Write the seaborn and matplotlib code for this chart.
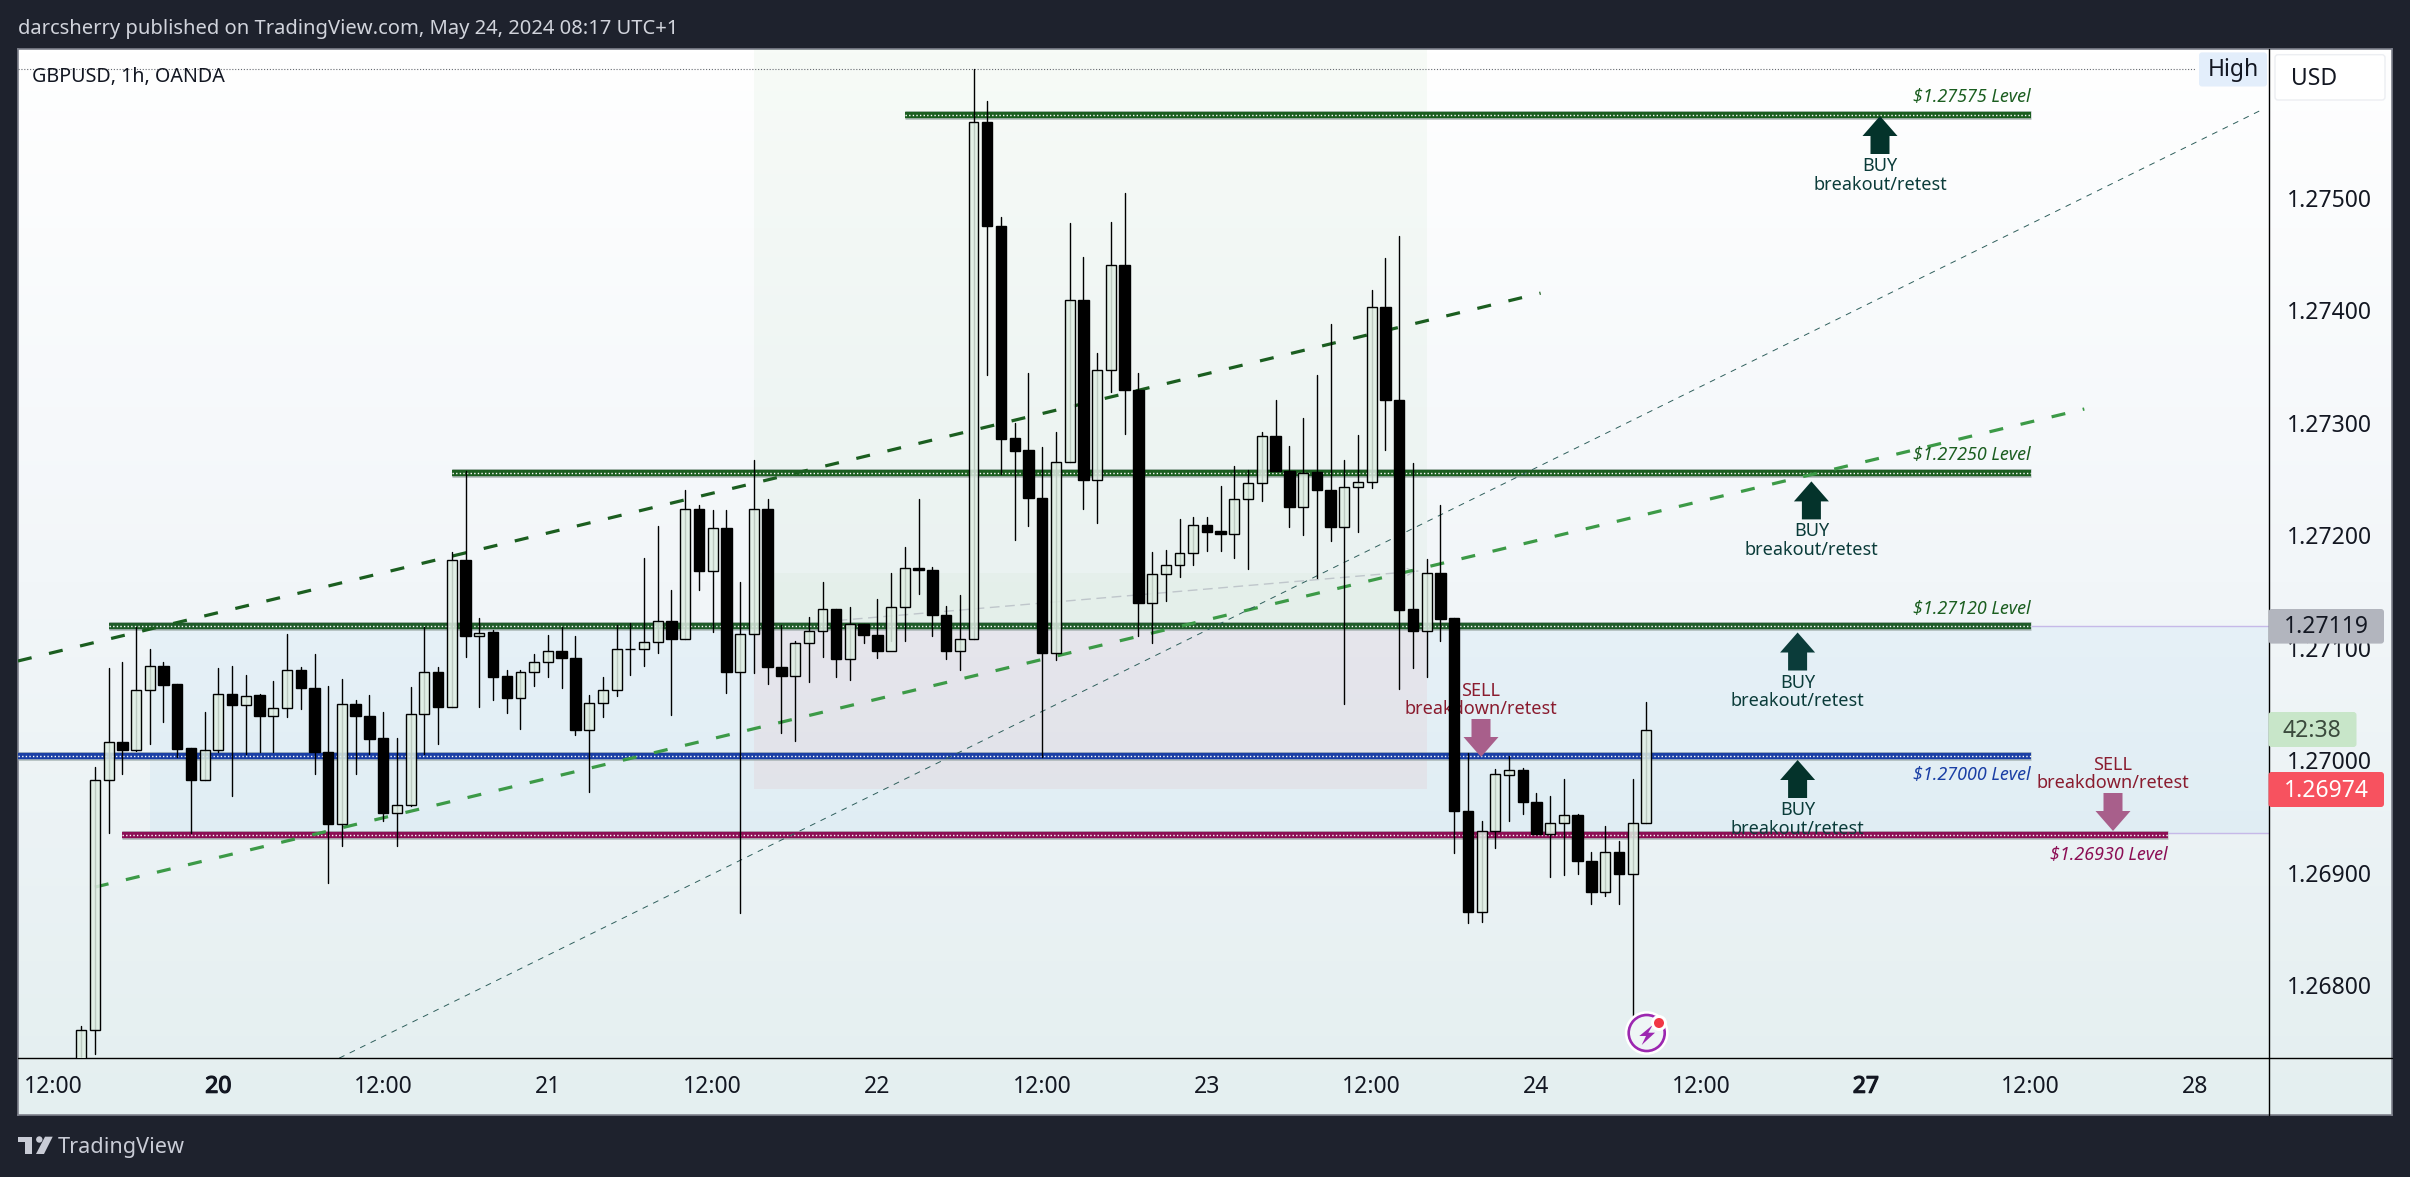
import pandas as pd
import numpy as np
import matplotlib
matplotlib.use("Agg")
import matplotlib.pyplot as plt
import matplotlib.patches as mpatches
import matplotlib.patheffects as pe
from matplotlib.colors import LinearSegmentedColormap, to_rgba
from matplotlib.transforms import Affine2D
import seaborn as sns

# ---------------------------
# data (GBPUSD 1h, bar 0 = May 20 00:00)
# ---------------------------
first_bar = -10
opens = [
    1.26730, 1.26760, 1.26982, 1.27016, 1.27009, 1.27062, 1.27084, 1.27068, 1.27011, 1.26982,
    1.27009, 1.27059, 1.27049, 1.27058, 1.27039, 1.27046, 1.27080, 1.27064, 1.27007, 1.26943,
    1.27050, 1.27039, 1.27020, 1.26953, 1.26960, 1.27041, 1.27078, 1.27047, 1.27178, 1.27110,
    1.27114, 1.27075, 1.27055, 1.27078, 1.27087, 1.27097, 1.27091, 1.27027, 1.27051, 1.27062,
    1.27099, 1.27099, 1.27105, 1.27124, 1.27108, 1.27223, 1.27168, 1.27206, 1.27078, 1.27112,
    1.27223, 1.27083, 1.27075, 1.27104, 1.27115, 1.27134, 1.27090, 1.27121, 1.27111, 1.27097,
    1.27136, 1.27171, 1.27169, 1.27129, 1.27097, 1.27108, 1.27567, 1.27475, 1.27286, 1.27276,
    1.27233, 1.27095, 1.27265, 1.27409, 1.27249, 1.27347, 1.27440, 1.27329, 1.27140, 1.27165,
    1.27173, 1.27184, 1.27209, 1.27204, 1.27201, 1.27232, 1.27246, 1.27288, 1.27257, 1.27225,
    1.27256, 1.27240, 1.27207, 1.27243, 1.27247, 1.27403, 1.27320, 1.27134, 1.27115, 1.27166,
    1.27126, 1.26955, 1.26865, 1.26937, 1.26987, 1.26991, 1.26963, 1.26934, 1.26944, 1.26951,
    1.26910, 1.26883, 1.26918, 1.26899, 1.26944,
]
closes = [
    1.26760, 1.26982, 1.27016, 1.27009, 1.27062, 1.27084, 1.27067, 1.27010, 1.26982, 1.27009,
    1.27059, 1.27049, 1.27057, 1.27039, 1.27046, 1.27080, 1.27064, 1.27007, 1.26943, 1.27050,
    1.27039, 1.27019, 1.26953, 1.26960, 1.27041, 1.27078, 1.27047, 1.27178, 1.27110, 1.27113,
    1.27074, 1.27055, 1.27078, 1.27087, 1.27097, 1.27091, 1.27027, 1.27051, 1.27062, 1.27099,
    1.27099, 1.27105, 1.27124, 1.27108, 1.27223, 1.27168, 1.27206, 1.27078, 1.27112, 1.27223,
    1.27083, 1.27075, 1.27104, 1.27115, 1.27134, 1.27090, 1.27121, 1.27111, 1.27097, 1.27136,
    1.27171, 1.27169, 1.27129, 1.27097, 1.27108, 1.27567, 1.27475, 1.27285, 1.27275, 1.27233,
    1.27095, 1.27265, 1.27409, 1.27249, 1.27347, 1.27440, 1.27329, 1.27140, 1.27165, 1.27173,
    1.27184, 1.27209, 1.27203, 1.27201, 1.27232, 1.27246, 1.27288, 1.27257, 1.27225, 1.27255,
    1.27240, 1.27207, 1.27243, 1.27247, 1.27403, 1.27320, 1.27133, 1.27115, 1.27166, 1.27125,
    1.26955, 1.26865, 1.26937, 1.26988, 1.26991, 1.26963, 1.26934, 1.26944, 1.26951, 1.26910,
    1.26883, 1.26918, 1.26899, 1.26944, 1.27027,
]
highs = [
    1.26764, 1.26994, 1.27082, 1.27087, 1.27118, 1.27099, 1.27087, 1.27068, 1.27011, 1.27043,
    1.27082, 1.27084, 1.27076, 1.27059, 1.27070, 1.27112, 1.27083, 1.27094, 1.27066, 1.27072,
    1.27053, 1.27058, 1.27043, 1.27020, 1.27065, 1.27118, 1.27083, 1.27185, 1.27257, 1.27126,
    1.27116, 1.27080, 1.27080, 1.27094, 1.27111, 1.27118, 1.27110, 1.27058, 1.27074, 1.27120,
    1.27122, 1.27180, 1.27208, 1.27151, 1.27240, 1.27227, 1.27222, 1.27222, 1.27158, 1.27267,
    1.27232, 1.27120, 1.27106, 1.27127, 1.27158, 1.27134, 1.27136, 1.27121, 1.27143, 1.27166,
    1.27189, 1.27232, 1.27172, 1.27137, 1.27147, 1.27614, 1.27586, 1.27483, 1.27300, 1.27344,
    1.27278, 1.27292, 1.27477, 1.27447, 1.27362, 1.27478, 1.27504, 1.27344, 1.27185, 1.27187,
    1.27214, 1.27216, 1.27216, 1.27244, 1.27261, 1.27258, 1.27292, 1.27320, 1.27279, 1.27304,
    1.27342, 1.27388, 1.27267, 1.27289, 1.27418, 1.27446, 1.27466, 1.27264, 1.27179, 1.27227,
    1.27126, 1.27006, 1.26946, 1.26992, 1.27004, 1.26993, 1.26971, 1.26968, 1.26983, 1.26952,
    1.26918, 1.26941, 1.26928, 1.26983, 1.27052,
]
lows = [
    1.26720, 1.26739, 1.26935, 1.26988, 1.27008, 1.27014, 1.27034, 1.27003, 1.26935, 1.26982,
    1.27007, 1.26968, 1.27005, 1.27007, 1.27007, 1.27038, 1.27045, 1.26988, 1.26891, 1.26924,
    1.26988, 1.27005, 1.26946, 1.26924, 1.26959, 1.27005, 1.27014, 1.27047, 1.27092, 1.27047,
    1.27053, 1.27042, 1.27028, 1.27066, 1.27074, 1.27064, 1.27022, 1.26972, 1.27038, 1.27057,
    1.27076, 1.27084, 1.27095, 1.27040, 1.27108, 1.27151, 1.27114, 1.27060, 1.26864, 1.27077,
    1.27068, 1.27024, 1.27017, 1.27069, 1.27092, 1.27074, 1.27071, 1.27104, 1.27091, 1.27106,
    1.27106, 1.27148, 1.27110, 1.27090, 1.27080, 1.27108, 1.27342, 1.27254, 1.27196, 1.27208,
    1.27003, 1.27089, 1.27265, 1.27223, 1.27211, 1.27327, 1.27290, 1.27110, 1.27104, 1.27141,
    1.27163, 1.27173, 1.27186, 1.27186, 1.27180, 1.27170, 1.27230, 1.27257, 1.27207, 1.27200,
    1.27162, 1.27195, 1.27050, 1.27203, 1.27242, 1.27276, 1.27063, 1.27082, 1.27074, 1.27106,
    1.26917, 1.26855, 1.26856, 1.26922, 1.26946, 1.26952, 1.26934, 1.26896, 1.26898, 1.26899,
    1.26872, 1.26879, 1.26872, 1.26769, 1.26944,
]

x_ticks = [-12, 0, 12, 24, 36, 48, 60, 72, 84, 96, 108, 120, 132, 144]
x_labels = ["12:00", "20", "12:00", "21", "12:00", "22", "12:00", "23",
            "12:00", "24", "12:00", "27", "12:00", "28"]
bold_labels = ["20", "27"]
y_ticks = [1.268, 1.269, 1.270, 1.271, 1.272, 1.273, 1.274, 1.275]

# horizontal levels: price, first bar, last bar
level_prices = [1.27573, 1.27255, 1.27119, 1.27004, 1.26933]
level_starts = [50, 17, -8, -14.6, -7]
level_ends = [132, 132, 132, 132, 142]
level_colors = ["#1b5e20", "#1b5e20", "#1f5c2a", "#1a3fa5", "#8c0f55"]

# trend lines: (bar, price) -> (bar, price)
upper_trend = ([-14.6, 96.3], [1.27088, 1.27415])
lower_trend = ([-9.0, 135.9], [1.26887, 1.27312])
thin_trend = ([8.8, 149.0], [1.26735, 1.27579])
drift_arrow = ([45.1, 87.4], [1.27124, 1.27168])
high_price = 1.27614

# ---------------------------
# figure set up, everything below is laid out in reference pixels
# ---------------------------
W, H = 2410, 1177
X_PX0, BAR_PX = 218.4, 13.73
Y_PX0, PRICE_PX = 197.5, 112500.0
PLOT_L, PLOT_R, PLOT_T, PLOT_B = 18, 2268.5, 48.6, 1058
PANEL_R, PANEL_B = 2392, 1114.6

sns.set_theme(style="white")
plt.rcParams["font.family"] = ["Noto Sans", "DejaVu Sans"]

fig = plt.figure(figsize=(W / 100, H / 100), dpi=100, facecolor="#1e222d")
tpx = Affine2D().scale(1, -1).translate(0, H)  # pixels from the top left

bg = fig.add_axes([PLOT_L / W, 1 - PANEL_B / H, (PANEL_R - PLOT_L) / W, (PANEL_B - PLOT_T) / H], zorder=0)
grad_cmap = LinearSegmentedColormap.from_list("panel", ["#ffffff", "#f2f6f9", "#e4eff0"])
bg.imshow(np.linspace(0, 1, 256).reshape(-1, 1), aspect="auto", cmap=grad_cmap)
bg.set_xticks([])
bg.set_yticks([])
for s in bg.spines.values():
    s.set_color("#7d808b")
    s.set_linewidth(1.2)

ax = fig.add_axes([PLOT_L / W, 1 - PLOT_B / H, (PLOT_R - PLOT_L) / W, (PLOT_B - PLOT_T) / H], zorder=1)
ax.patch.set_alpha(0)


def bar_at(px):
    return (px - X_PX0) / BAR_PX


def price_at(py):
    return 1.275 - (py - Y_PX0) / PRICE_PX


# ---------------------------
# zones
# ---------------------------
def zone(x0, x1, y0, y1, color):
    ax.add_patch(mpatches.Rectangle((x0, y0), x1 - x0, y1 - y0, color=color, lw=0, zorder=1))


zone(-5, bar_at(PLOT_R), 1.26934, 1.27119, (0.13, 0.59, 0.95, 0.05))
zone(39, 88, 1.26974, 1.27119, (0.95, 0.21, 0.27, 0.06))
zone(39, 88, 1.27119, price_at(PLOT_T), (0.30, 0.69, 0.31, 0.045))
zone(39, 88, 1.27119, 1.27166, (0.30, 0.69, 0.31, 0.03))

# ---------------------------
# levels and trend lines
# ---------------------------
for price, x0, x1, col in zip(level_prices, level_starts, level_ends, level_colors):
    ax.plot([x0, x1], [price, price], color="#9aa7a5", lw=6.2, alpha=0.75, solid_capstyle="butt", zorder=2)
    ax.plot([x0, x1], [price, price], color=col, lw=4.6, solid_capstyle="butt", zorder=2.1)
    ax.plot([x0, x1], [price, price], color="white", lw=1.0, ls=(0, (1, 1.6)), zorder=2.2)

ax.plot([132, bar_at(PLOT_R)], [1.27119, 1.27119], color="#c6b9e8", lw=1, zorder=1.5)
ax.plot([142, bar_at(PLOT_R)], [1.26935, 1.26935], color="#c6b9e8", lw=1, zorder=1.5)
ax.plot([-14.6, bar_at(2196)], [high_price, high_price], color="#666a70", lw=0.8, ls=(0, (1, 1.6)), zorder=2)

ax.plot(*upper_trend, color="#1b5e20", lw=2.3, ls=(0, (4.4, 5.6)), zorder=2.5)
ax.plot(*lower_trend, color="#3c9a47", lw=2.3, ls=(0, (4.4, 5.6)), zorder=2.5)
ax.plot(*thin_trend, color="#2f5f5c", lw=0.7, ls=(0, (6, 6)), zorder=2.5)
ax.plot(*drift_arrow, color="#bfc6cb", lw=1, ls=(0, (7, 4)), zorder=2.4)
ax.annotate("", xy=(drift_arrow[0][1], drift_arrow[1][1]), xytext=(drift_arrow[0][1] - 1, drift_arrow[1][1] - 0.00001),
            arrowprops=dict(arrowstyle="->", color="#bfc6cb", lw=1), zorder=2.4)

# ---------------------------
# candles: wicks with lineplot, bodies with barplot
# ---------------------------
df = pd.DataFrame({"open": opens, "high": highs, "low": lows, "close": closes})
df["bar"] = range(first_bar, first_bar + len(df))
df["bottom"] = df[["open", "close"]].min(axis=1)
df["height"] = (df["close"] - df["open"]).abs()
df["up"] = df["close"] >= df["open"]

wicks = df.melt(id_vars="bar", value_vars=["high", "low"], value_name="price")
sns.lineplot(data=wicks, x="bar", y="price", units="bar", estimator=None, sort=False,
             color="black", lw=1.0, legend=False, ax=ax, zorder=4)

down = df[~df["up"]]
sns.barplot(x=down["bar"].values, y=down["height"].values, bottom=down["bottom"].values, native_scale=True,
            width=0.76, color="black", saturation=1, edgecolor="black", linewidth=1.0,
            errorbar=None, ax=ax, zorder=6)
n_before = len(ax.patches)
up = df[df["up"]]
sns.barplot(x=up["bar"].values, y=up["height"].values, bottom=up["bottom"].values, native_scale=True,
            width=0.72, color="#dcebe0", saturation=1, edgecolor="black", linewidth=1.0,
            errorbar=None, ax=ax, zorder=6)
for p in ax.patches[n_before:]:
    p.set_facecolor(to_rgba("#e0efe4", 0.85))

ax.set_xlim(bar_at(PLOT_L), bar_at(PLOT_R))
ax.set_ylim(price_at(PLOT_B), price_at(PLOT_T))
ax.set_xlabel("")
ax.set_ylabel("")

# ---------------------------
# axes text
# ---------------------------
ax.yaxis.tick_right()
ax.set_yticks(y_ticks)
ax.set_yticklabels([f"{v:.5f}" for v in y_ticks], fontsize=16.5, color="#131722")
ax.set_xticks(x_ticks)
ax.set_xticklabels(x_labels, fontsize=16.5, color="#131722")
for lab in ax.get_xticklabels():
    if lab.get_text() in bold_labels:
        lab.set_path_effects([pe.withStroke(linewidth=0.9, foreground="#131722")])
ax.tick_params(axis="y", length=0, pad=13)
ax.tick_params(axis="x", length=0, pad=12)
sns.despine(ax=ax, left=True, right=True, top=True, bottom=True)

ax.plot([PLOT_L, PANEL_R], [PLOT_B, PLOT_B], transform=tpx, color="black", lw=1.0, clip_on=False, zorder=3)
ax.plot([PLOT_R, PLOT_R], [PLOT_T, PANEL_B], transform=tpx, color="black", lw=1.0, clip_on=False, zorder=3)


def label(x, y, s, size, color, ha="center", **kw):
    return ax.text(x, y, s, transform=tpx, fontsize=size, color=color, ha=ha, va="center", clip_on=False, **kw)


def box(x0, y0, x1, y1, color, z=7, ec="none"):
    ax.add_patch(mpatches.FancyBboxPatch((x0 + 3, y0 + 3), x1 - x0 - 6, y1 - y0 - 6, boxstyle="round,pad=3",
                                         transform=tpx, fc=color, ec=ec, lw=1, clip_on=False, zorder=z))


label(18, 29, "darcsherry published on TradingView.com, May 24, 2024 08:17 UTC+1", 14.5, "#d1d4dc", ha="left")
label(32, 77, "GBPUSD, 1h, OANDA", 14.2, "#131722", ha="left", zorder=3)

box(2199, 52.4, 2267, 86.5, "#e3eefb")
label(2233, 70, "High", 16.5, "#131722", zorder=8)
box(2275, 54.7, 2385, 100, "#ffffff", ec="#eceef2")
label(2291, 79, "USD", 16.5, "#131722", ha="left", zorder=8)
box(2268.5, 609, 2384, 643.6, "#b2b5be")
label(2326, 627, "1.27119", 16.5, "#131722", zorder=8)
box(2268.5, 712, 2356.5, 747, "#c8e6c9")
label(2312, 731, "42:38", 16.5, "#3b4a3d", zorder=8)
box(2268.5, 772, 2384, 807, "#f7525f")
label(2326, 791, "1.26974", 16.5, "white", zorder=8)

# level captions
captions = ["$1.27575 Level", "$1.27250 Level", "$1.27120 Level", "$1.27000 Level", "$1.26930 Level"]
caption_x = [2031, 2031, 2031, 2031, 2168]
caption_y = [96.5, 454.5, 608.5, 774.5, 854]
caption_col = ["#1b5e20", "#1b5e20", "#1b5e20", "#1a3fa5", "#8c0f55"]
for s, cx, cy, col in zip(captions, caption_x, caption_y, caption_col):
    label(cx, cy, s.replace("$", r"\$"), 12.9, col, ha="right", style="italic", zorder=3)


# block arrows with their text, under the candles like in the original
def block_arrow(x, tip, direction, color):
    d = 1 if direction == "up" else -1
    pts = [(0, 0), (17.5, 20), (9.5, 20), (9.5, 38), (-9.5, 38), (-9.5, 20), (-17.5, 20)]
    pts = [(x + a, tip + d * b) for a, b in pts]
    ax.add_patch(mpatches.Polygon(pts, transform=tpx, fc=color, ec="none", clip_on=False, zorder=3))


buy_x = [1880, 1811.4, 1797.6, 1797.6]
buy_tip = [116, 481.4, 632.5, 760]
buy_col = ["#04332b", "#04332b", "#0b3c3a", "#04332b"]
for bx, bt, col in zip(buy_x, buy_tip, buy_col):
    block_arrow(bx, bt, "up", col)
    label(bx, bt + 50, "BUY", 13, "#0b3c3a", zorder=3)
    label(bx, bt + 69, "breakout/retest", 13, "#0b3c3a", zorder=3)

sell_x = [1481, 2113]
sell_tip = [757, 831]
for sx, st in zip(sell_x, sell_tip):
    block_arrow(sx, st, "down", "#a85f8b")
    label(sx, st - 66, "SELL", 13, "#8a1c2f", zorder=3)
    label(sx, st - 48, "breakdown/retest", 13, "#8a1c2f", zorder=3)

# lightning event badge
ax.add_patch(mpatches.Circle((1646.7, 1033), 20.5, transform=tpx, fc="#eef5f5", ec="white", lw=2, clip_on=False, zorder=5))
ax.add_patch(mpatches.Circle((1646.7, 1033), 18, transform=tpx, fc="none", ec="#9c27b0", lw=1.9, clip_on=False, zorder=5.1))
bolt = [(1652.7, 1025), (1639.3, 1036), (1646, 1036), (1641.7, 1045), (1655, 1032.7), (1648.3, 1032.7)]
ax.add_patch(mpatches.Polygon(bolt, transform=tpx, fc="#9c27b0", ec="none", clip_on=False, zorder=5.2))
ax.add_patch(mpatches.Circle((1659, 1023), 8, transform=tpx, fc="white", ec="none", clip_on=False, zorder=5.3))
ax.add_patch(mpatches.Circle((1659, 1023), 5, transform=tpx, fc="#f23645", ec="none", clip_on=False, zorder=5.4))

# watermark at the bottom
logo = "#c9ccd6"
ax.add_patch(mpatches.Polygon([(18, 1136.7), (32, 1136.7), (32, 1154), (24.7, 1154), (24.7, 1142), (18, 1142)],
                              transform=tpx, fc=logo, ec="none", clip_on=False))
ax.add_patch(mpatches.Circle((39.3, 1139.5), 3.2, transform=tpx, fc=logo, ec="none", clip_on=False))
ax.add_patch(mpatches.Polygon([(45, 1136.7), (52.7, 1136.7), (44, 1154), (36, 1154)],
                              transform=tpx, fc=logo, ec="none", clip_on=False))
label(58, 1148, "TradingView", 15.6, logo, ha="left")

fig.savefig("out.png", dpi=100, facecolor=fig.get_facecolor())
